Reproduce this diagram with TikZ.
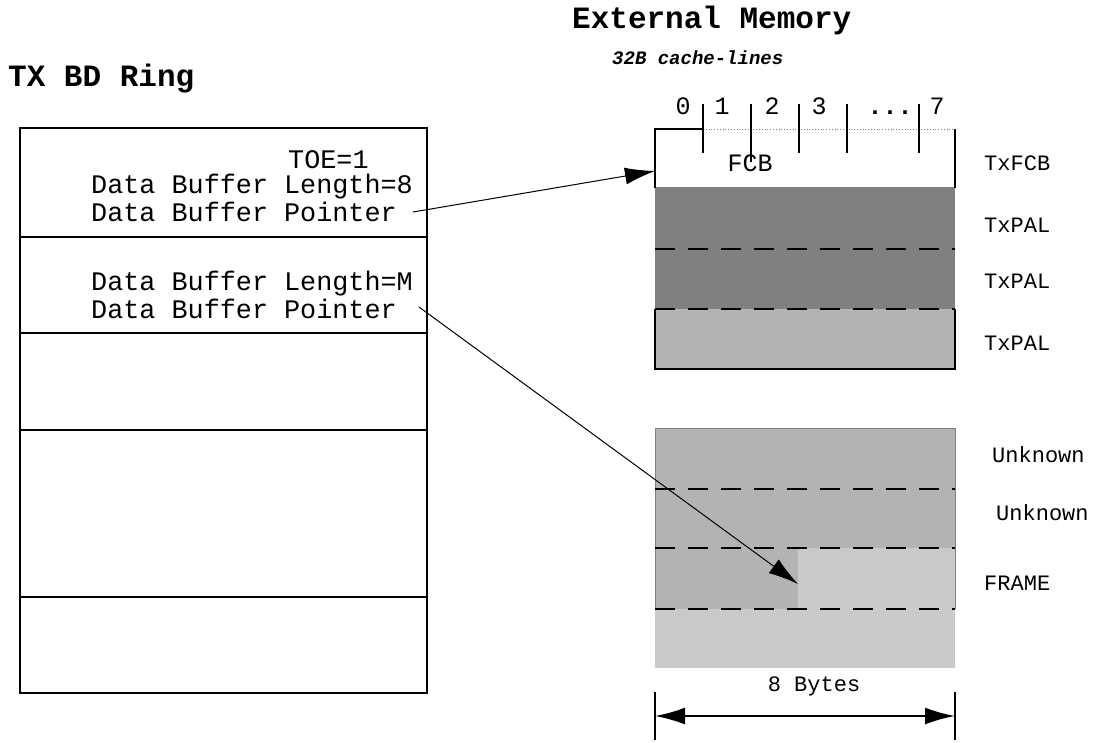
\documentclass[tikz,border=0pt]{standalone}
\usepackage{fontspec}
\setmonofont{Liberation Mono}
\usetikzlibrary{arrows.meta,positioning}
\definecolor{memDark}{HTML}{808080}
\definecolor{memLight}{HTML}{B3B3B3}
\definecolor{memFrame}{HTML}{CACACA}
\tikzset{
    titleText/.style={font=\fontsize{31}{33}\selectfont\ttfamily\bfseries, inner sep=0pt},
    subTitle/.style={font=\fontsize{19}{21}\selectfont\ttfamily\bfseries\itshape, inner sep=0pt},
    bdText/.style={font=\fontsize{26.8}{28}\selectfont\ttfamily, inner sep=0pt, anchor=west},
    memLabel/.style={font=\fontsize{22}{24}\selectfont\ttfamily, inner sep=0pt, anchor=west},
    byteNum/.style={font=\fontsize{25}{27}\selectfont\ttfamily, inner sep=0pt},
    % Lines
    ringLine/.style={line width=2pt},
    cellDash/.style={line width=2pt, dash pattern=on 20pt off 13pt},
    tickLine/.style={line width=2pt},
    % Arrows
    ptrArrow/.style={-{Latex[length=30pt,width=17pt]}, line width=1pt},
    dimArrow/.style={{Latex[length=30pt,width=17pt]}-{Latex[length=30pt,width=17pt]}, line width=2pt}
}
\begin{document}
\begin{tikzpicture}[x=1pt, y=-1pt]
    \useasboundingbox (0,0) rectangle (1110,742);

    % Titles
    \node[titleText, anchor=west] (ringTitle) at (8,79) {TX BD Ring};
    \node[titleText, anchor=west] (memTitle) at (572,20) {External Memory};
    \node[subTitle, anchor=west] (memSub) at (612,58) {32B cache-lines};

    % TX BD ring
    \draw[ringLine] (20,128) rectangle (427,693);
    \foreach \y in {237,333,430,597}
        \draw[ringLine] (20,\y) -- (427,\y);
    \node[bdText] (toe) at (288,160) {TOE=1};
    \node[bdText] (lenA) at (91,187) {Data Buffer Length=8};
    \node[bdText] (ptrA) at (91,212) {Data Buffer Pointer};
    \node[bdText] (lenB) at (91,284) {Data Buffer Length=M};
    \node[bdText] (ptrB) at (91,309) {Data Buffer Pointer};

    % Upper memory block
    \fill[memDark] (655,187) rectangle (955,309);
    \fill[memLight] (655,309) rectangle (955,369);
    \draw[cellDash] (655,249) -- (955,249);
    \draw[cellDash] (655,309) -- (955,309);
    \draw[ringLine] (703,129) -- (655,129) -- (655,188);
    \draw[ringLine] (955,129) -- (955,188);
    \draw[ringLine] (655,309) -- (655,369) -- (955,369) -- (955,309);
    \draw[gray, line width=0.8pt, dotted] (703,129) -- (955,129);
    \node[byteNum] (fcb) at (750,163) {FCB};
    \coordinate (fcbIn) at (655,171);

    % Byte ticks
    \foreach \x in {703,799,847,919}
        \draw[tickLine] (\x,104) -- (\x,153);
    \draw[tickLine] (751,104) -- (751,162);
    \foreach \x/\t [count=\i] in {683/0,722/1,772/2,819/3,890/{\textbf{...}},937/7}
        \node[byteNum, anchor=base] (byte\i) at (\x,114) {\t};

    % Lower memory block
    \fill[memLight] (655,428) rectangle (955,668);
    \fill[memFrame] (798,548) rectangle (955,609);
    \fill[memFrame] (655,609) rectangle (955,668);
    \draw[gray, line width=1pt] (655,609) -- (655,428) -- (955,428) -- (955,609);
    \foreach \y in {489,548,609}
        \draw[cellDash] (655,\y) -- (955,\y);
    \coordinate (frameIn) at (798,584);

    % Row labels
    \node[memLabel] (txfcb) at (984,163) {TxFCB};
    \node[memLabel] (palA) at (984,225) {TxPAL};
    \node[memLabel] (palB) at (984,281) {TxPAL};
    \node[memLabel] (palC) at (984,343) {TxPAL};
    \node[memLabel] (unkA) at (992,455) {Unknown};
    \node[memLabel] (unkB) at (996,513) {Unknown};
    \node[memLabel] (frame) at (984,583) {FRAME};

    % Pointers
    \draw[ptrArrow] ([xshift=16pt]ptrA.east) -- (fcbIn);
    \draw[ptrArrow] ([xshift=22pt, yshift=2pt]ptrB.east) -- (frameIn);

    % Width dimension
    \coordinate (dimL) at (655,716);
    \coordinate (dimR) at (955,716);
    \draw[ringLine] (655,692) -- (655,740);
    \draw[ringLine] (955,692) -- (955,740);
    \draw[dimArrow] (dimL) -- (dimR);
    \node[memLabel, anchor=center] (bytes) at (814,686) {8 Bytes};
\end{tikzpicture}
\end{document}
